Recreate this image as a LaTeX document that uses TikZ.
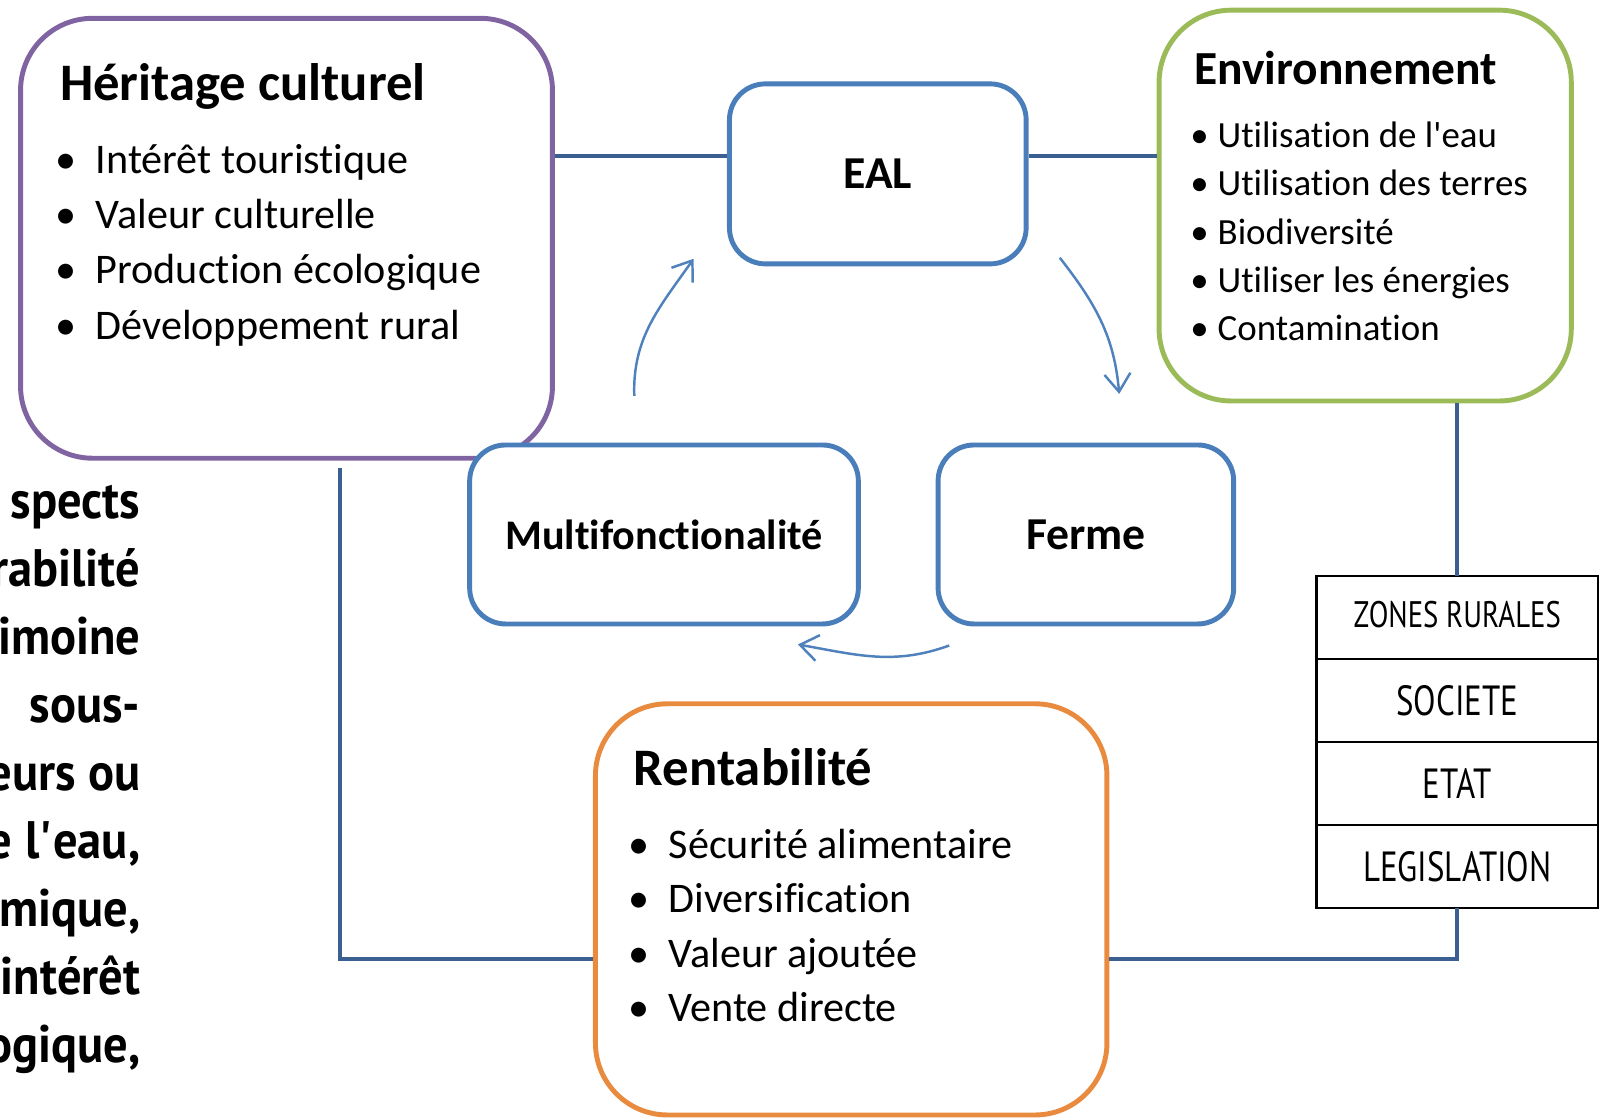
\documentclass[tikz,border=0pt]{standalone}
\usepackage{fontspec}
\setmainfont{Carlito}[Ligatures={TeX,NoCommon}]
\newfontfamily\dinfont[FakeStretch=0.92]{PT Sans}
\newfontfamily\dincond[FakeStretch=0.78]{PT Sans}
\usetikzlibrary{positioning,calc,arrows.meta}

\definecolor{violet1}{HTML}{8064A2}
\definecolor{vert1}{HTML}{9BBB59}
\definecolor{orange1}{HTML}{E98B3F}
\definecolor{bleu1}{HTML}{4A7EBB}
\definecolor{bleufonce}{HTML}{3C5F91}
\definecolor{bleuclair}{HTML}{4F81BD}

\tikzset{
    grand/.style={rectangle, line width=1.4pt, rounded corners=0.72cm},
    petit/.style={rectangle, draw=bleu1, fill=white, line width=1.4pt, rounded corners=0.36cm, font=\bfseries\fontsize{13}{15}\selectfont},
    lien/.style={draw=bleufonce, line width=1.15pt},
    fleche/.style={draw=bleuclair, line width=0.7pt, -{Straight Barb[length=1.8mm,width=2.6mm]}},
    titre/.style={anchor=base west, inner sep=0pt, font=\bfseries\fontsize{15}{18}\selectfont},
    item/.style={anchor=base west, inner sep=0pt, font=\fontsize{12}{14}\selectfont},
    case/.style={draw, fill=white, line width=0.8pt, minimum width=2.813cm, minimum height=0.83cm, inner sep=0pt, outer sep=0pt, font=\dincond\fontsize{12}{14}\selectfont}
}

\begin{document}
\begin{tikzpicture}
    \useasboundingbox (0,0) rectangle (16.04,11.18);

    % texte coupe a gauche
    \foreach \t [count=\i] in {spects, rabilité, imoine, sous-, eurs ou, e\hspace{1.3mm}l\textquotesingle eau{,}, mique{,}, intérêt, ogique{,}}
        \node[anchor=base east, inner sep=0pt, font=\dinfont\bfseries\fontsize{15}{17}\selectfont] (page\i) at (1.41,{6.675-0.68*\i}) {\t};

    % grandes boites
    \node[grand, draw=violet1, minimum width=5.319cm, minimum height=4.399cm] (her) at (2.865,8.797) {};
    \node[grand, draw=vert1, minimum width=4.122cm, minimum height=3.908cm] (env) at (13.652,9.124) {};
    \node[grand, draw=orange1, minimum width=5.115cm, minimum height=4.112cm] (rent) at (8.512,2.086) {};

    % tableau
    \node[case, font=\dincond\fontsize{10.5}{12}\selectfont] (tab1) at (14.573,5.005) {\raisebox{0.6mm}{ZONES RURALES}};
    \node[case, below=0pt of tab1] (tab2) {SOCIETE};
    \node[case, below=0pt of tab2] (tab3) {ETAT};
    \node[case, below=0pt of tab3] (tab4) {LEGISLATION};

    % liaisons
    \node[petit, minimum width=2.967cm, minimum height=1.8cm] (eal) at (8.778,9.441) {EAL};
    \coordinate (haut) at ($(eal.west)+(0,0.174)$);
    \draw[lien] (her.east |- haut) -- (haut);
    \draw[lien] ($(eal.east)+(0,0.174)$) -- (env.west |- haut);
    \draw[lien] (env.south -| tab1.north) -- (tab1.north);
    \coordinate (coinD) at (tab4.south |- 0,1.594);
    \draw[lien] (tab4.south) -- (coinD) -- (rent.east |- coinD);
    \coordinate (coinG) at (3.396,1.594);
    \draw[lien] ([yshift=-0.07cm]her.south -| coinG) -- (coinG) -- (rent.west |- coinG);

    \node[petit, minimum width=3.887cm, minimum height=1.79cm, font=\bfseries\fontsize{12}{14}\selectfont] (multi) at (6.64,5.835) {Multifonctionalité};
    \node[petit, minimum width=2.956cm, minimum height=1.79cm] (ferme) at (10.859,5.835) {Ferme};

    % fleches du cycle
    \coordinate (f1a) at (6.343,7.221);
    \coordinate (f1b) at (6.936,8.592);
    \coordinate (f2a) at (10.598,8.602);
    \coordinate (f2b) at (11.192,7.241);
    \coordinate (f3a) at (9.493,4.725);
    \coordinate (f3b) at (7.979,4.735);
    \draw[fleche] (f1a) to[out=92,in=235] (f1b);
    \draw[fleche] (f2a) to[out=-52,in=95] (f2b);
    \draw[fleche] (f3a) to[out=200,in=-10] (f3b);

    % textes des boites
    \node[titre] (herTitre) at (0.593,10.17) {Héritage culturel};
    \foreach \t [count=\i] in {Intérêt touristique, Valeur culturelle, Production écologique, Développement rural}
        \node[item] (her\i) at (0.95,{9.996-0.552*\i}) {\llap{\textbullet\hspace{1.9mm}}\t};

    \node[titre, font=\bfseries\fontsize{13.5}{16}\selectfont] (envTitre) at (11.938,10.33) {Environnement};
    \foreach \t [count=\i] in {Utilisation de l\textquotesingle eau, Utilisation des terres, Biodiversité, Utiliser les énergies, Contamination}
        \node[item, font=\fontsize{10.5}{12}\selectfont] (env\i) at (12.17,{10.184-0.482*\i}) {\llap{\textbullet\hspace{0.9mm}}\t};

    \node[titre] (rentTitre) at (6.332,3.32) {Rentabilité};
    \foreach \t [count=\i] in {Sécurité alimentaire, Diversification, Valeur ajoutée, Vente directe}
        \node[item] (rent\i) at (6.68,{3.144-0.546*\i}) {\llap{\textbullet\hspace{1.9mm}}\t};
\end{tikzpicture}
\end{document}
